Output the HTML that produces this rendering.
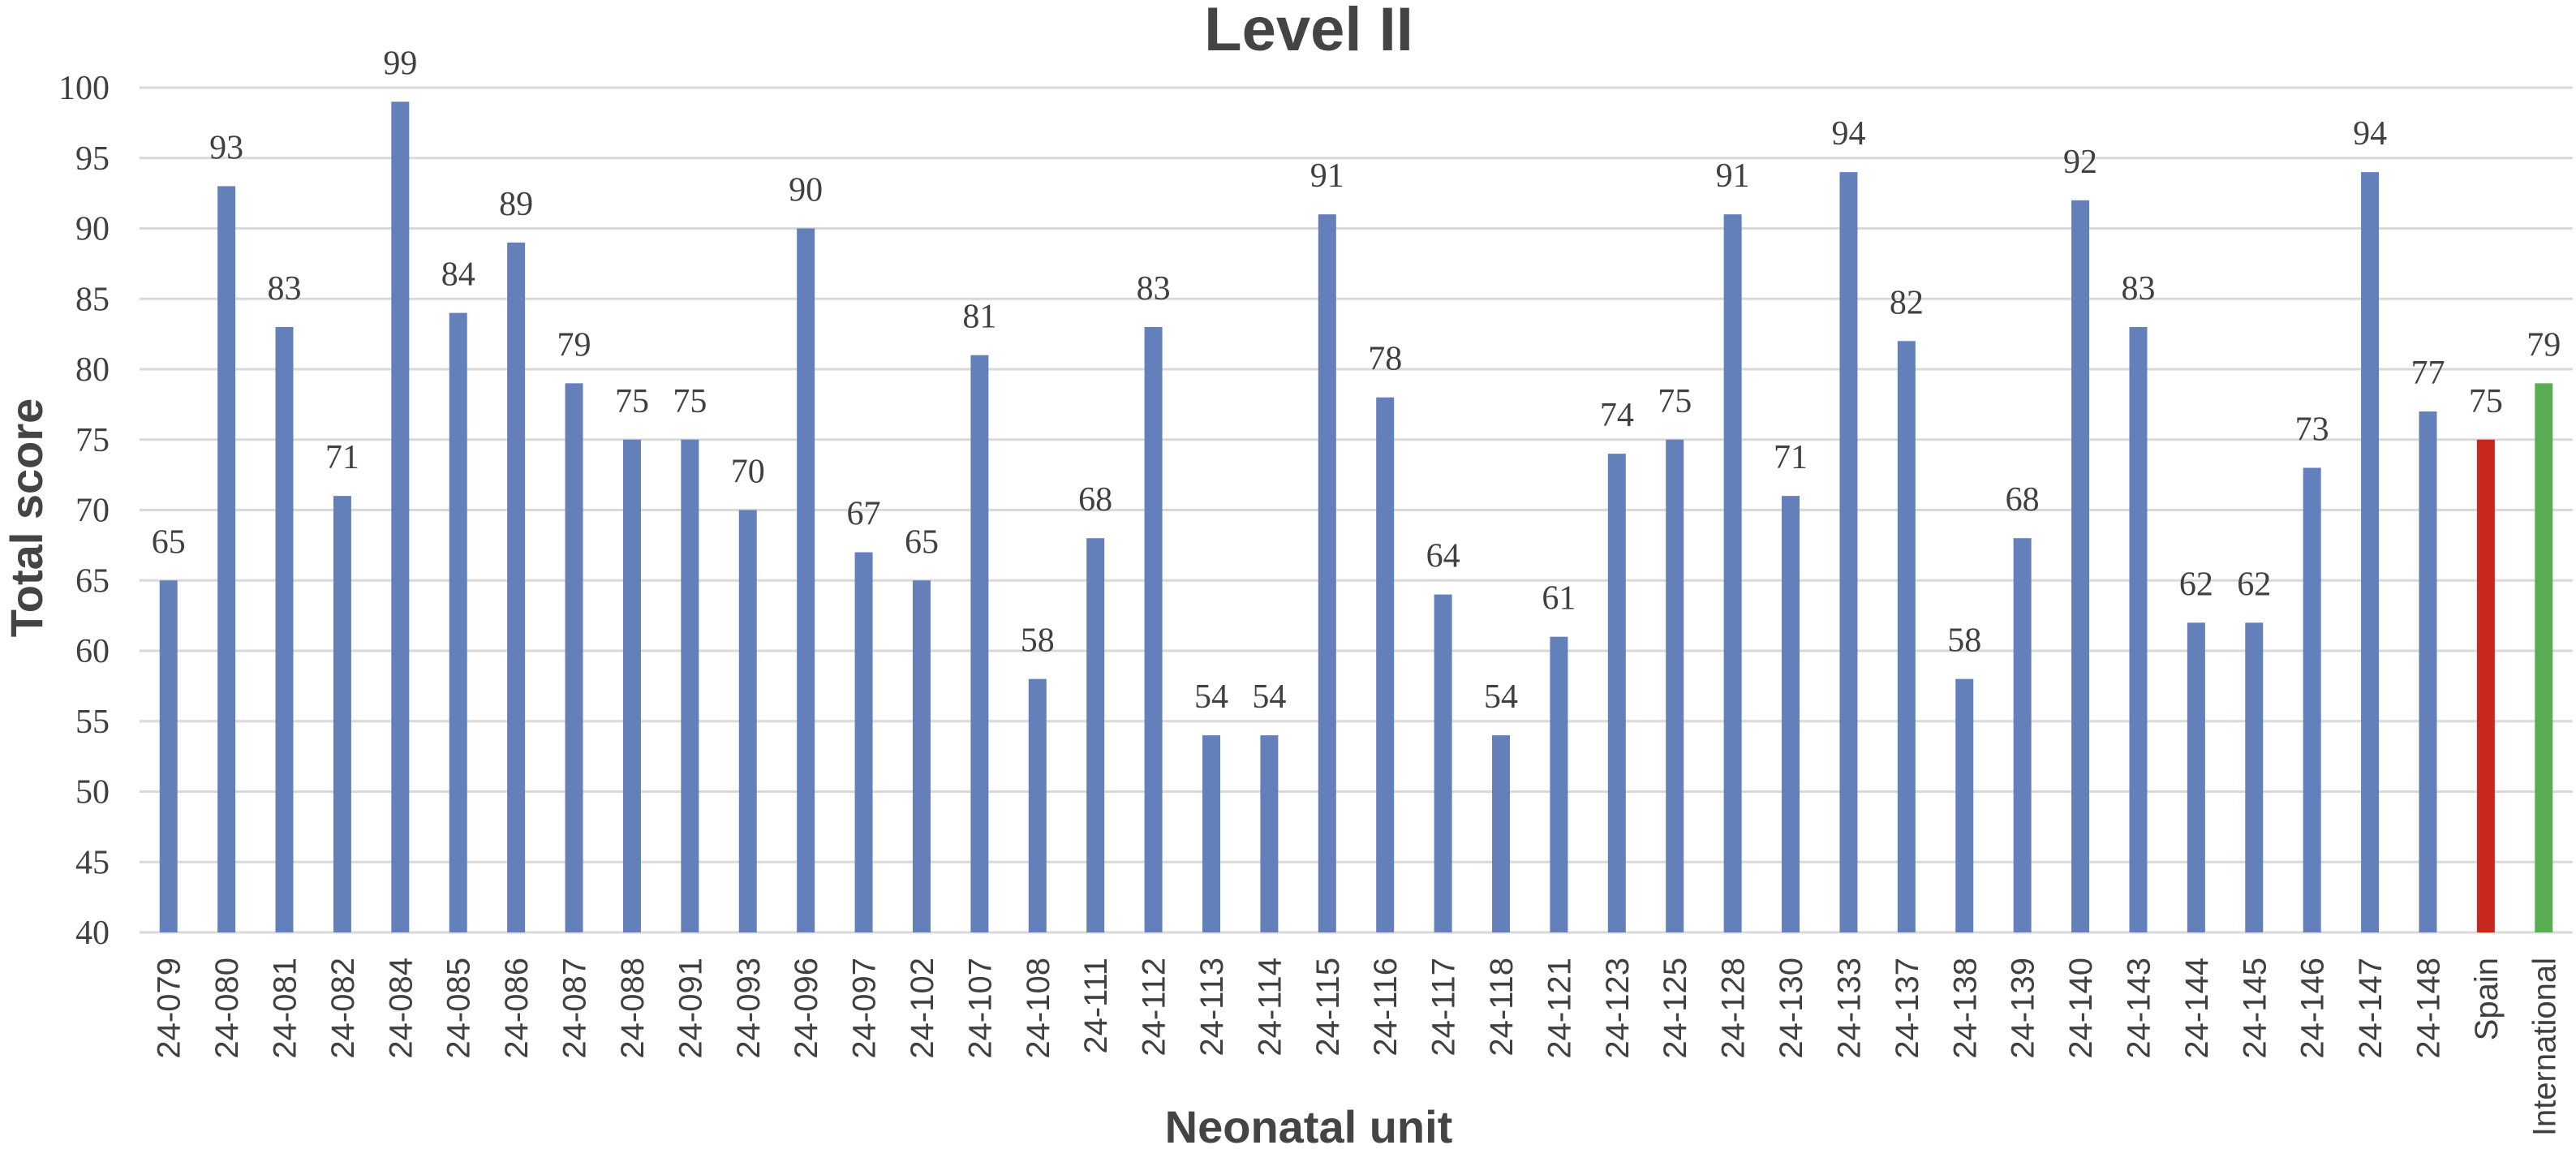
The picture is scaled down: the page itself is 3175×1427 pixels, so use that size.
<!DOCTYPE html>
<html><head><meta charset="utf-8"><style>
html,body{margin:0;padding:0;background:#fff;}
svg{display:block;}
</style></head><body>
<svg id="chart" width="3175" height="1427" viewBox="0 0 3175 1427" xmlns="http://www.w3.org/2000/svg">
<text x="1613" y="62" text-anchor="middle" font-family="Liberation Sans, sans-serif" font-weight="bold" font-size="76" fill="#444">Level II</text>
<text transform="translate(52,638) rotate(-90)" text-anchor="middle" font-family="Liberation Sans, sans-serif" font-weight="bold" font-size="56" fill="#444">Total score</text>
<text x="1613" y="1408" text-anchor="middle" font-family="Liberation Sans, sans-serif" font-weight="bold" font-size="56" fill="#444">Neonatal unit</text>
<g id="grid"></g><g id="bars"></g><g id="labels"></g>
</svg>
<script>
const categories = ["24-079","24-080","24-081","24-082","24-084","24-085","24-086","24-087","24-088","24-091","24-093","24-096","24-097","24-102","24-107","24-108","24-111","24-112","24-113","24-114","24-115","24-116","24-117","24-118","24-121","24-123","24-125","24-128","24-130","24-133","24-137","24-138","24-139","24-140","24-143","24-144","24-145","24-146","24-147","24-148","Spain","International"];
const values = [65,93,83,71,99,84,89,79,75,75,70,90,67,65,81,58,68,83,54,54,91,78,64,54,61,74,75,91,71,94,82,58,68,92,83,62,62,73,94,77,75,79];
const barColors = {"Spain":"#c9281e","International":"#5aad52"};
const yTicks = [40,45,50,55,60,65,70,75,80,85,90,95,100];
const NS="http://www.w3.org/2000/svg";
const left=172, right=3171, yMin=40, yMax=100, y0=1149, y1=108;
const step=(right-left)/categories.length;
function xC(i){return left+step*(i+0.5);}
function yS(v){return y0-(v-yMin)/(yMax-yMin)*(y0-y1);}
function mk(tag,attrs,parent){const e=document.createElementNS(NS,tag);for(const k in attrs)e.setAttribute(k,attrs[k]);parent.appendChild(e);return e;}
const grid=document.getElementById('grid'),bars=document.getElementById('bars'),labels=document.getElementById('labels');
yTicks.forEach(t=>{
  const l=mk('line',{x1:left,x2:right,y1:yS(t),y2:yS(t),stroke:'#d9d9d9','stroke-width':3},grid);
  
  
  const tx=mk('text',{x:135,y:yS(t)+14,'text-anchor':'end','font-family':'Liberation Serif, serif','font-size':42,fill:'#404040'},labels);
  tx.textContent=t;
  
  
});
categories.forEach((c,i)=>{
  const v=values[i],x=xC(i),w=22;
  const r=mk('rect',{x:x-w/2,y:yS(v),width:w,height:y0-yS(v),fill:barColors[c]||'#6480bb'},bars);
  
  
  const vl=mk('text',{x:x,y:yS(v)-34,'text-anchor':'middle','font-family':'Liberation Serif, serif','font-size':42,fill:'#404040'},labels);
  vl.textContent=v;
  
  
  const xl=mk('text',{transform:`translate(${x+14},1180) rotate(-90)`,'text-anchor':'end','font-family':'Liberation Sans, sans-serif','font-size':40,fill:'#404040'},labels);
  xl.textContent=c;
  
  
});
</script>
</body></html>
